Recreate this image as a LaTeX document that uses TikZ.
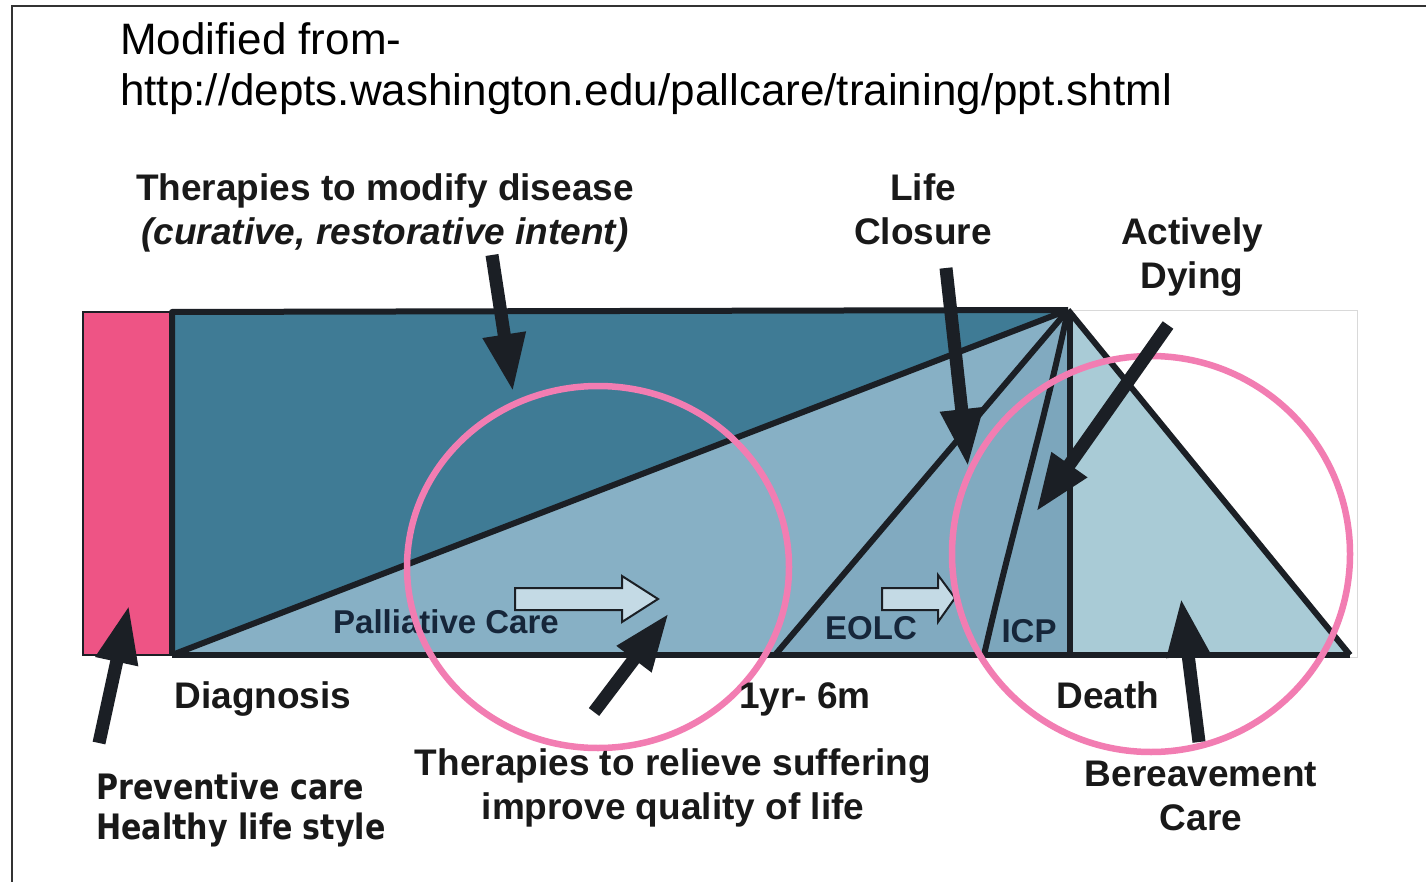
\documentclass[tikz,border=0pt]{standalone}
\usepackage{fontspec}
\setmainfont{Liberation Sans}
\newfontfamily\verd[FakeStretch=0.86]{DejaVu Sans}
\usetikzlibrary{arrows.meta}
\definecolor{pinkbar}{HTML}{EE5485}
\definecolor{darkteal}{HTML}{3F7B95}
\definecolor{palfill}{HTML}{87B0C5}
\definecolor{eolcfill}{HTML}{81AAC0}
\definecolor{icpfill}{HTML}{7CA6BC}
\definecolor{berfill}{HTML}{A9CBD6}
\definecolor{edge}{HTML}{1B1F25}
\definecolor{ring}{HTML}{F27DB2}
\definecolor{navy}{HTML}{16263A}
\definecolor{hollow}{HTML}{C4DAE5}
\tikzset{
  lbl/.style={font=\fontsize{37}{44}\selectfont\bfseries, text=black!90, inner sep=0pt, anchor=base},
  inlbl/.style={font=\fontsize{33}{40}\selectfont\bfseries, text=navy, inner sep=0pt, anchor=base},
  region/.style={draw=edge, line width=6pt, line join=round},
  bigarrow/.style={line width=13pt, draw=edge, -{Triangle[length=58pt,width=40pt]}},
  circ/.style={draw=ring, line width=6.5pt},
  hollowarrow/.style={draw=edge, line width=2pt, fill=hollow, line join=miter}
}
\begin{document}
\begin{tikzpicture}[x=1pt,y=-1pt]
\useasboundingbox (0,0) rectangle (1426,882);
\fill[white] (0,0) rectangle (1426,882);
% frame
\draw[line width=2pt, draw=black!80] (12,882) -- (12,6) -- (1426,6);
% title
\node[anchor=base west, inner sep=0pt, font=\fontsize{44}{50}\selectfont] (t1) at (120,55) {Modified from-};
\node[anchor=base west, inner sep=0pt, font=\fontsize{44}{50}\selectfont] (t2) at (120,106) {http://depts.washington.edu/pallcare/training/ppt.shtml};
% corner points
\coordinate (apex) at (1068,310);
\coordinate (bl) at (172,655);
\coordinate (tl) at (172,312);
\coordinate (eb) at (775,655);
\coordinate (ib) at (984,655);
\coordinate (vb) at (1070,655);
\coordinate (hb) at (1350,655);
% thin grey box
\draw[draw=black!15, line width=1pt] (1068,311) rectangle (1357,657);
% pink bar
\fill[pinkbar] (83,312) rectangle (172,655);
\draw[edge, line width=2pt] (172,312) -- (83,312) -- (83,655) -- (172,655);
% regions
\fill[darkteal] (tl) rectangle (vb);
\fill[palfill] (bl) -- (apex) -- (eb) -- cycle;
\fill[eolcfill] (eb) -- (apex) -- (ib) -- cycle;
\fill[icpfill] (ib) .. controls (1010,540) and (1045,420) .. (apex) -- (vb) -- cycle;
\fill[berfill] (1070,318) -- (apex) -- (hb) -- (vb) -- cycle;
% outline lines
\draw[region] (bl) -- (tl) -- (apex);
\draw[region] (bl) -- (apex);
\draw[region] (eb) -- (apex);
\draw[region] (ib) .. controls (1010,540) and (1045,420) .. (apex);
\draw[region] (vb) -- (1070,312);
\draw[region] (apex) -- (hb);
\draw[region, line cap=butt] (bl) -- (hb);
% hollow arrows
\draw[hollowarrow] (515,588) -- (622,588) -- (622,576) -- (658,599) -- (622,622) -- (622,610) -- (515,610) -- cycle;
\draw[hollowarrow] (882,588) -- (938,588) -- (938,575) -- (955,598) -- (938,622) -- (938,610) -- (882,610) -- cycle;
% inner labels
\node[inlbl] (pc) at (446,633) {Palliative Care};
\node[inlbl] (eolc) at (871,639) {EOLC};
\node[inlbl] (icp) at (1029,642) {ICP};
% circles
\draw[circ] (598,567) ellipse [x radius=191, y radius=181];
\draw[circ] (1151,554) ellipse [x radius=199, y radius=198];
% labels
\node[lbl] (ther1) at (385,201) {Therapies to modify disease};
\node[lbl] (ther2) at (385,245) {\itshape (curative, restorative intent)};
\node[lbl] (life1) at (923,201) {Life};
\node[lbl] (life2) at (923,245) {Closure};
\node[lbl] (act1) at (1192,245) {Actively};
\node[lbl] (act2) at (1192,289) {Dying};
\node[lbl] (diag) at (263,708) {Diagnosis};
\node[lbl] (yr) at (805,708) {1yr- 6m};
\node[lbl] (death) at (1108,708) {Death};
\node[lbl] (rel1) at (673,775) {Therapies to relieve suffering};
\node[lbl] (rel2) at (673,819) {improve quality of life};
\node[lbl] (ber1) at (1201,786) {Bereavement};
\node[lbl] (ber2) at (1201,830) {Care};
\node[lbl, anchor=base west, font=\fontsize{35}{40}\selectfont\verd\bfseries] (prev1) at (96,799) {Preventive care};
\node[lbl, anchor=base west, font=\fontsize{35}{40}\selectfont\verd\bfseries] (prev2) at (96,839) {Healthy life style};
% arrow coordinates
\coordinate (a1s) at (492,255); \coordinate (a1e) at (513,392);
\coordinate (a2s) at (946,268); \coordinate (a2e) at (968,467);
\coordinate (a3s) at (1168,325); \coordinate (a3e) at (1036,512);
\coordinate (a4s) at (99,743); \coordinate (a4e) at (129,605);
\coordinate (a5s) at (594,712); \coordinate (a5e) at (669,613);
\coordinate (a6s) at (1199,742); \coordinate (a6e) at (1181,598);
\draw[bigarrow] (a1s) -- (a1e);
\draw[bigarrow] (a2s) -- (a2e);
\draw[bigarrow] (a3s) -- (a3e);
\draw[bigarrow] (a4s) -- (a4e);
\draw[bigarrow] (a5s) -- (a5e);
\draw[bigarrow] (a6s) -- (a6e);
\end{tikzpicture}
\end{document}
